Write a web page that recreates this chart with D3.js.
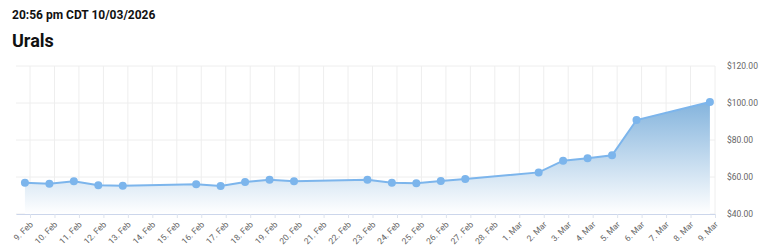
<!DOCTYPE html>
<html>
<head>
<meta charset="utf-8">
<script src="https://cdn.jsdelivr.net/npm/d3@7"></script>
<style>
  html, body { margin: 0; padding: 0; background: #fff; }
  svg { display: block; font-family: Roboto, "Noto Sans", sans-serif; }
</style>
</head>
<body>
<svg id="chart" width="768" height="249"></svg>
<script>
// ---- data ----
const timestamp = "20:56 pm CDT 10/03/2026";
const chartTitle = "Urals";
const dates = [
  "2026-02-08T19:00", "2026-02-09T19:00", "2026-02-10T19:00", "2026-02-11T19:00",
  "2026-02-12T19:00", "2026-02-15T19:00", "2026-02-16T19:00", "2026-02-17T19:00",
  "2026-02-18T19:00", "2026-02-19T19:00", "2026-02-22T19:00", "2026-02-23T19:00",
  "2026-02-24T19:00", "2026-02-25T19:00", "2026-02-26T19:00", "2026-03-01T19:00",
  "2026-03-02T19:00", "2026-03-03T19:00", "2026-03-04T19:00", "2026-03-05T19:00",
  "2026-03-08T19:00"
];
const prices = [
  56.9, 56.4, 57.7, 55.5, 55.3, 56.1, 55.1, 57.3, 58.5, 57.7,
  58.5, 56.9, 56.6, 57.8, 58.9, 62.5, 68.8, 70.1, 71.7, 90.8, 100.5
];
const yTicks = [40, 60, 80, 100, 120];
const xDomain = ["2026-02-08T10:15", "2026-03-09T00:00"];
const xTickStart = "2026-02-09T00:00";
const xTickEnd = "2026-03-09T00:00";

// ---- layout ----
const parse = d3.timeParse("%Y-%m-%dT%H:%M");
const data = dates.map((d, i) => ({ date: parse(d), value: prices[i] }));
const margin = { left: 16, right: 53, top: 66, bottom: 35 };
const W = 768, H = 249;
const svg = d3.select("#chart");

const x = d3.scaleTime().domain(xDomain.map(parse)).range([margin.left, W - margin.right]);
const y = d3.scaleLinear().domain([40, 120]).range([H - margin.bottom, margin.top]);

const xTickDates = d3.timeDay.range(parse(xTickStart), d3.timeDay.offset(parse(xTickEnd), 1));
const fmt = d3.timeFormat("%-d. %b");

// titles
svg.append("text").attr("x", 12).attr("y", 18.5)
  .attr("font-size", 12).attr("font-weight", 700).attr("fill", "#111").text(timestamp);
svg.append("text").attr("x", 12).attr("y", 46.5)
  .attr("font-size", 18).attr("font-weight", 700).attr("fill", "#111").text(chartTitle);

// gradient
const defs = svg.append("defs");
const grad = defs.append("linearGradient").attr("id", "areaGrad")
  .attr("x1", 0).attr("y1", 0).attr("x2", 0).attr("y2", 1);
grad.append("stop").attr("offset", "0%").attr("stop-color", "#84b4dd");
grad.append("stop").attr("offset", "100%").attr("stop-color", "#ffffff");

// horizontal gridlines
svg.append("g").selectAll("line").data(yTicks).join("line")
  .attr("x1", margin.left).attr("x2", W - margin.right)
  .attr("y1", d => y(d)).attr("y2", d => y(d))
  .attr("stroke", "#eeeeee").attr("stroke-width", 1);

// vertical gridlines
svg.append("g").selectAll("line").data(xTickDates).join("line")
  .attr("x1", d => x(d)).attr("x2", d => x(d))
  .attr("y1", y(120)).attr("y2", y(40))
  .attr("stroke", "#eeeeee").attr("stroke-width", 1);

// area
const area = d3.area().x(d => x(d.date)).y0(y(40)).y1(d => y(d.value));
svg.append("path").datum(data).attr("d", area).attr("fill", "url(#areaGrad)");

// x axis
const xAxis = d3.axisBottom(x).tickValues(xTickDates).tickFormat(fmt).tickSize(4).tickSizeOuter(0);
const gx = svg.append("g").attr("transform", `translate(0,${y(40)})`).call(xAxis);
gx.select(".domain").attr("stroke", "#ccd6eb");
gx.selectAll(".tick line").attr("stroke", "#dde3ee");
gx.selectAll(".tick text")
  .attr("font-family", "Roboto, sans-serif")
  .attr("font-size", 8.5).attr("fill", "#666")
  .attr("text-anchor", "end")
  .attr("dy", null).attr("y", null)
  .attr("transform", "translate(3,11) rotate(-45)");

// y axis labels
const yAxis = d3.axisRight(y).tickValues(yTicks).tickFormat(d => "$" + d3.format(".2f")(d)).tickSize(0).tickPadding(0);
const gy = svg.append("g").attr("transform", `translate(727,0)`).call(yAxis);
gy.select(".domain").remove();
gy.selectAll(".tick text").attr("font-family", "Roboto, sans-serif")
  .attr("font-size", 8.5).attr("fill", "#666");

// line
const line = d3.line().x(d => x(d.date)).y(d => y(d.value));
svg.append("path").datum(data).attr("d", line)
  .attr("fill", "none").attr("stroke", "#7cb5ec").attr("stroke-width", 2);

// markers
svg.append("g").selectAll("circle").data(data).join("circle")
  .attr("cx", d => x(d.date)).attr("cy", d => y(d.value)).attr("r", 4)
  .attr("fill", "#7cb5ec");
</script>
</body>
</html>
